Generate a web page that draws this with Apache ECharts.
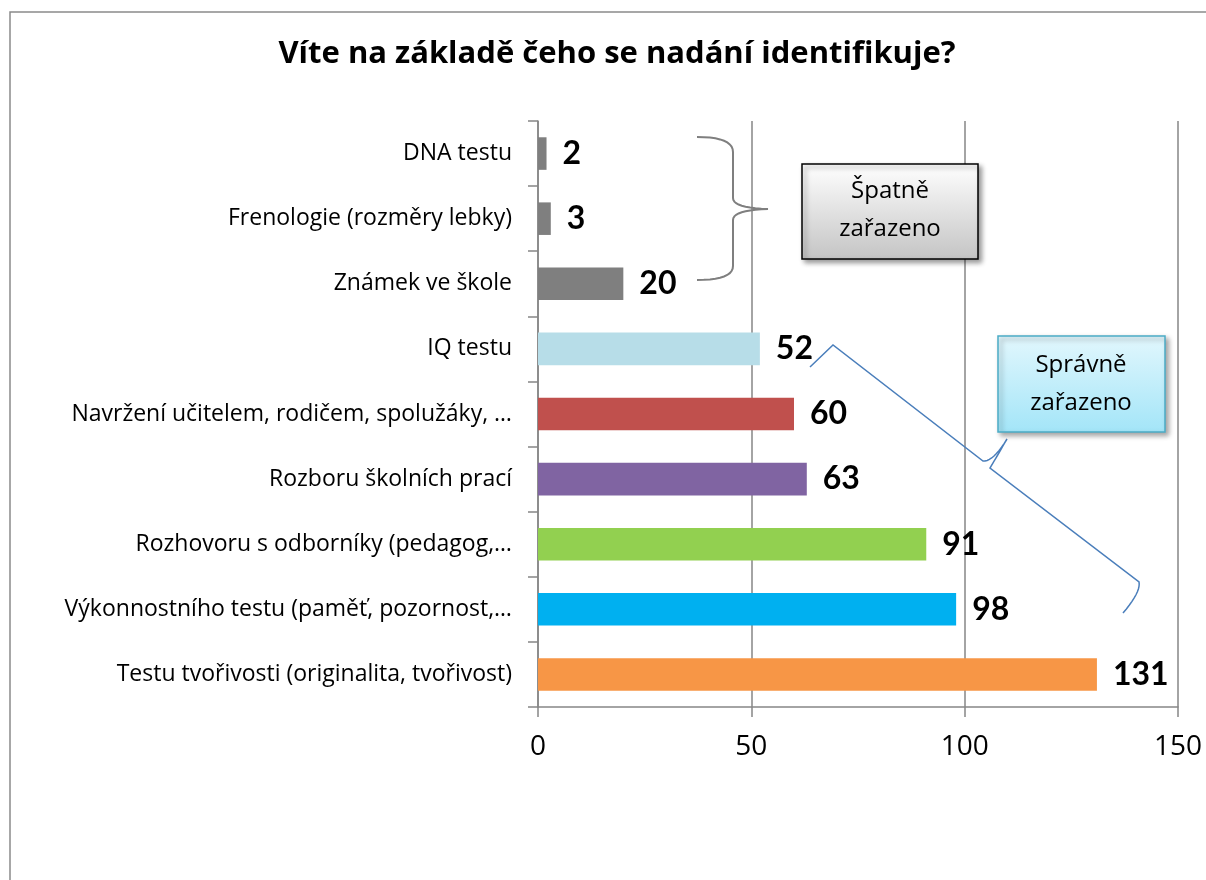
<!DOCTYPE html>
<html>
<head>
<meta charset="utf-8">
<script src="https://cdn.jsdelivr.net/npm/echarts@6/dist/echarts.min.js"></script>
<style>html,body{margin:0;padding:0;background:#fff}#c{width:1206px;height:880px}</style>
</head>
<body>
<div id="c"></div>
<script>
const categories = [
  'DNA testu',
  'Frenologie (rozměry lebky)',
  'Známek ve škole',
  'IQ testu',
  'Navržení učitelem, rodičem, spolužáky, …',
  'Rozboru školních prací',
  'Rozhovoru s odborníky (pedagog,…',
  'Výkonnostního testu (paměť, pozornost,…',
  'Testu tvořivosti (originalita, tvořivost)'
];
const values = [2, 3, 20, 52, 60, 63, 91, 98, 131];
const barColors = ['#7f7f7f','#7f7f7f','#7f7f7f','#b7dde8','#c0504d','#8064a2','#92d050','#00b0f0','#f79646'];
const xTicks = [0, 50, 100, 150];
const titleText = 'Víte na základě čeho se nadání identifikuje?';
const wrongLabel = 'Špatně\nzařazeno';
const rightLabel = 'Správně\nzařazeno';

const FONT = '"Open Sans", Lato, sans-serif';
const FONT_B = 'Lato, "Open Sans", sans-serif';
function vgrad(c0, c1) {
  return {type: 'linear', x: 0, y: 0, x2: 0, y2: 1, colorStops: [{offset: 0, color: c0}, {offset: 1, color: c1}]};
}
// decoration path helper: segments are ['L',x,y] or ['Q',cx,cy,x,y]
function pathPoints(start, segs) {
  const pts = [start.slice()];
  let cur = start.slice();
  segs.forEach(s => {
    if (s[0] === 'L') { cur = [s[1], s[2]]; pts.push(cur); }
    else {
      const [_, cx, cy, x, y] = s;
      for (let t = 1; t <= 10; t++) {
        const u = t / 10, a = (1 - u) * (1 - u), b = 2 * u * (1 - u), c = u * u;
        pts.push([a * cur[0] + b * cx + c * x, a * cur[1] + b * cy + c * y]);
      }
      cur = [x, y];
    }
  });
  return pts;
}
const grayBrace = pathPoints([697,137], [['Q',733,137,733,152],['L',733,198],['Q',733,208,768,209],['Q',733,210,733,220],['L',733,266],['Q',733,280,697,280]]);
const blueBrace = pathPoints([810,367], [['L',833,345],['L',983,461],['Q',993,462,1007,439],['Q',996,458,990,468],['L',1139,582],['Q',1141,592,1123,613]]);

const chart = echarts.init(document.getElementById('c'), null, {renderer: 'canvas'});
chart.setOption({
  animation: false,
  backgroundColor: '#fff',
  title: {
    text: titleText,
    left: 612, top: 34, textAlign: 'center',
    textStyle: {fontFamily: FONT, fontWeight: 'bold', fontSize: 31, color: '#000'}
  },
  grid: {left: 538, right: 28, top: 121, bottom: 173, containLabel: false},
  xAxis: {
    type: 'value', min: xTicks[0], max: xTicks[xTicks.length - 1], interval: 50,
    axisLine: {show: true, lineStyle: {color: '#868686', width: 1.5}},
    axisTick: {show: true, length: 10, lineStyle: {color: '#868686', width: 1.5}},
    splitLine: {show: true, lineStyle: {color: '#868686', width: 1.5}},
    axisLabel: {fontFamily: FONT, fontSize: 28, color: '#000', margin: 26}
  },
  yAxis: {
    type: 'category', data: categories, inverse: true,
    axisLine: {show: true, lineStyle: {color: '#868686', width: 1.5}},
    axisTick: {show: true, length: 10, alignWithLabel: false, lineStyle: {color: '#868686', width: 1.5}},
    axisLabel: {fontFamily: FONT, fontSize: 23, color: '#000', margin: 26}
  },
  series: [{
    type: 'bar',
    data: values.map((v, i) => ({value: v, itemStyle: {color: barColors[i]}})),
    barWidth: '50%',
    label: {
      show: true, position: 'right', distance: 16,
      fontFamily: FONT_B, fontWeight: 'bold', fontSize: 32, color: '#000'
    }
  }],
  graphic: [
    {type: 'rect', shape: {x: 10, y: 12, width: 1400, height: 1000},
     style: {fill: 'none', stroke: '#8a8a8a', lineWidth: 1.5}, silent: true, z: -1},
    {type: 'polyline', shape: {points: grayBrace},
     style: {fill: 'none', stroke: '#7f7f7f', lineWidth: 2}, z: 10},
    {type: 'rect', shape: {x: 802, y: 164, width: 176, height: 95},
     style: {
       fill: vgrad('#ffffff', '#c4c4c4'),
       stroke: '#000', lineWidth: 1.5,
       shadowBlur: 5, shadowOffsetX: 3, shadowOffsetY: 3, shadowColor: 'rgba(0,0,0,0.4)'
     }, z: 10},
    {type: 'text', x: 890, y: 210, style: {text: wrongLabel, fontFamily: FONT, fontSize: 24, fill: '#000',
      align: 'center', verticalAlign: 'middle', lineHeight: 38}, z: 11},
    {type: 'polyline', shape: {points: blueBrace},
     style: {fill: 'none', stroke: '#4a7ebb', lineWidth: 1.5}, z: 10},
    {type: 'rect', shape: {x: 998, y: 336, width: 167, height: 96},
     style: {
       fill: vgrad('#e2f7fd', '#a3e5f8'),
       stroke: '#4bacc6', lineWidth: 1.5,
       shadowBlur: 5, shadowOffsetX: 3, shadowOffsetY: 3, shadowColor: 'rgba(0,0,0,0.35)'
     }, z: 10},
    {type: 'text', x: 1081, y: 384, style: {text: rightLabel, fontFamily: FONT, fontSize: 24, fill: '#000',
      align: 'center', verticalAlign: 'middle', lineHeight: 38}, z: 11}
  ]
});
</script>
</body>
</html>
